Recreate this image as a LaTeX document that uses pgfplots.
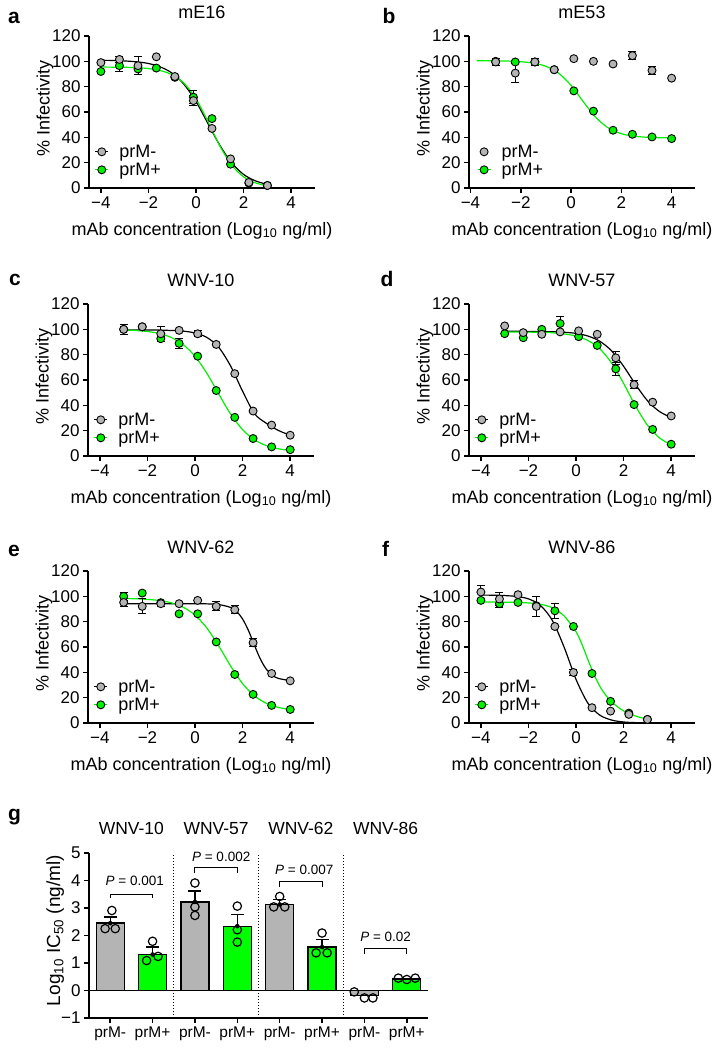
\documentclass[border=0pt]{standalone}
\usepackage{pgfplots}
\pgfplotsset{compat=1.18}
\usepackage{fontspec}
\setmainfont{Liberation Sans}
\definecolor{mgray}{RGB}{180,180,180}
\definecolor{mgreen}{RGB}{0,240,0}
\definecolor{bgreen}{RGB}{0,255,0}
\pgfplotsset{
  axstyle/.style={
    scale only axis, anchor=south west,
    axis x line*=bottom, axis y line*=left,
    axis line style={-, line width=1.8pt},
    every outer x axis line/.append style={-},
    every outer y axis line/.append style={-},
    tick align=outside, major tick length=5pt,
    tick style={black, line width=1.6pt},
    clip=false,
  },
  drbase/.style={
    axstyle, width=226pt, height=152pt,
    xmin=-4.5, xmax=5, ymin=0, ymax=120,
    xtick={-4,-2,0,2,4}, xticklabels={−4,−2,0,2,4},
    ytick={0,20,...,120}, yticklabels={0,20,40,60,80,100,120},
    tick label style={font=\fontsize{17}{17}\selectfont},
    xlabel={mAb concentration (Log\textsubscript{10} ng/ml)},
    ylabel={\% Infectivity},
    every axis x label/.style={at={(axis description cs:0.5,0)}, anchor=base, yshift=-47pt, font=\fontsize{18}{18}\selectfont},
    every axis y label/.style={at={(axis description cs:-0.195,0.52)}, rotate=90, anchor=center, font=\fontsize{18}{18}\selectfont},
    title style={font=\fontsize{18}{18}\selectfont, at={(axis description cs:0.5,1)}, anchor=base, yshift=11.7pt},
    legend style={at={(axis description cs:0,0)}, anchor=south west, draw=none, fill=none,
      font=\fontsize{18}{18}\selectfont, inner sep=0pt, row sep=4pt, /tikz/column sep=10.5pt,
      nodes={inner sep=0pt, text height=13pt, text depth=1pt}},
    legend cell align=left,
  },
  curveM/.style={black, line width=1.2pt, smooth, no marks, forget plot},
  curveP/.style={mgreen, line width=1.2pt, smooth, no marks, forget plot},
  ptsbase/.style={only marks, mark=*, mark size=4pt, forget plot,
    error bars/y dir=both, error bars/y explicit,
    error bars/error bar style={black, line width=1pt},
    error bars/error mark options={black, rotate=90, mark size=4pt, line width=1pt}},
  ptsM/.style={ptsbase, mark options={draw=black, fill=mgray, line width=0.9pt}},
  ptsP/.style={ptsbase, mark options={draw=black, fill=mgreen, line width=0.9pt}},
  legM/.style={legend image code/.code={\draw[black,line width=1.2pt] (-6.5pt,0pt)--(6.5pt,0pt); \draw[black,fill=mgray,line width=0.9pt] (0pt,0pt) circle (4pt);}},
  legP/.style={legend image code/.code={\draw[mgreen,line width=1.2pt] (-6.5pt,0pt)--(6.5pt,0pt); \draw[black,fill=mgreen,line width=0.9pt] (0pt,0pt) circle (4pt);}},
  legMo/.style={legend image code/.code={\draw[black,fill=mgray,line width=0.9pt] (0pt,0pt) circle (4pt);}},
}
\begin{document}
\begin{tikzpicture}
\useasboundingbox (0pt,0pt) rectangle (724pt,-1050pt);
% ---------------- a
\begin{axis}[drbase, at={(89pt,-188pt)}, title={mE16}, legend style={xshift=5.5pt, yshift=11pt}]
\addplot[curveM] coordinates {(-4,100.8) (-3.5,100.7) (-3,100.3) (-2.5,99.6) (-2,98.3) (-1.5,95.6) (-1,90.6) (-0.5,81.7) (0,68.2) (0.5,50.9) (1,33.7) (1.5,19.8) (2,10.7) (2.5,5.6) (3,2.8)};
\addplot[curveP] coordinates {(-4,95.5) (-3.5,95.4) (-3,95.3) (-2.5,95.0) (-2,94.3) (-1.5,92.7) (-1,89.4) (-0.5,82.6) (0,70.4) (0.5,52.5) (1,33.2) (1.5,18.1) (2,8.8) (2.5,4.0) (3,1.8)};
\addplot[ptsP] coordinates {(-4,92) +- (0,0) (-3.22,96.6) +- (0,4.5) (-2.44,94) +- (0,0) (-1.67,94.7) +- (0,0) (-0.89,87.4) +- (0,0) (-0.11,71.7) +- (0,5) (0.67,54.8) +- (0,0) (1.45,18.8) +- (0,0) (2.22,3.9) +- (0,0) (3,2) +- (0,0)};
\addplot[ptsM] coordinates {(-4,99) +- (0,0) (-3.22,101.5) +- (0,2.5) (-2.44,96.6) +- (0,7) (-1.67,103.6) +- (0,0) (-0.89,88) +- (0,0) (-0.11,69) +- (0,4) (0.67,47) +- (0,0) (1.45,23) +- (0,0) (2.22,4.4) +- (0,0) (3,2) +- (0,0)};
\addlegendimage{legM}\addlegendentry{prM-}
\addlegendimage{legP}\addlegendentry{prM+}
\end{axis}
% ---------------- b
\begin{axis}[drbase, at={(469pt,-188pt)}, xmin=-4.06, xmax=4.93, title={mE53}, legend style={xshift=7.8pt, yshift=11pt}]
\addplot[curveP] coordinates {(-3.75,100.5) (-3,100.4) (-2.5,100.2) (-2,99.7) (-1.5,98.6) (-1,96.1) (-0.5,90.7) (0,81.0) (0.5,67.8) (1,55.4) (1.5,47.2) (2,42.9) (2.5,40.9) (3,40.1) (3.5,39.7) (4,39.6)};
\addplot[ptsP] coordinates {(-3,100) +- (0,0) (-2.22,99.5) +- (0,1.5) (-1.44,99.5) +- (0,0) (-0.67,93.4) +- (0,0) (0.11,76.7) +- (0,0) (0.89,60.7) +- (0,0) (1.67,45.6) +- (0,0) (2.44,42.4) +- (0,0) (3.22,40.3) +- (0,0) (4,39) +- (0,0)};
\addplot[ptsM] coordinates {(-3,99.5) +- (0,3) (-2.22,90.7) +- (0,7.5) (-1.44,99.5) +- (0,2.5) (-0.67,93.4) +- (0,0) (0.11,102.1) +- (0,0) (0.89,100) +- (0,0) (1.67,97.9) +- (0,0) (2.44,104.5) +- (0,3) (3.22,92.8) +- (0,3) (4,86.7) +- (0,0)};
\addlegendimage{legMo}\addlegendentry{prM-}
\addlegendimage{legP}\addlegendentry{prM+}
\end{axis}
% ---------------- c
\begin{axis}[drbase, at={(88pt,-456pt)}, title={WNV-10}, legend style={xshift=5.5pt, yshift=11pt}]
\addplot[curveM] coordinates {(-3,99.5) (-2.5,99.5) (-2,99.45) (-1.5,99.4) (-1,99.1) (-0.5,98.6) (0,97.1) (0.5,93.6) (1,85.7) (1.5,70.9) (2,51.1) (2.5,33.4) (3,25.8) (3.5,20.2) (4,16.4)};
\addplot[curveP] coordinates {(-3,99.6) (-2.5,99.1) (-2,98.3) (-1.5,96.7) (-1,93.6) (-0.5,88.0) (0,78.7) (0.5,65.2) (1,48.8) (1.5,33.0) (2,20.8) (2.5,12.8) (3,8.2) (3.5,5.7) (4,4.4)};
\addplot[ptsP] coordinates {(-3,100) +- (0,0) (-2.22,102) +- (0,0) (-1.44,92.6) +- (0,2) (-0.67,88.9) +- (0,4) (0.11,78.8) +- (0,0) (0.89,51.7) +- (0,0) (1.67,30.5) +- (0,0) (2.44,13.8) +- (0,0) (3.22,7.2) +- (0,0) (4,5) +- (0,0)};
\addplot[ptsM] coordinates {(-3,100) +- (0,4) (-2.22,102) +- (0,0) (-1.44,96.5) +- (0,6) (-0.67,99.2) +- (0,0) (0.11,96.5) +- (0,2.5) (0.89,88.1) +- (0,0) (1.67,65) +- (0,0) (2.44,35.5) +- (0,0) (3.22,24.4) +- (0,0) (4,16.4) +- (0,0)};
\addlegendimage{legM}\addlegendentry{prM-}
\addlegendimage{legP}\addlegendentry{prM+}
\end{axis}
% ---------------- d
\begin{axis}[drbase, at={(469pt,-456pt)}, title={WNV-57}, legend style={xshift=5.5pt, yshift=11pt}]
\addplot[curveM] coordinates {(-3,98.5) (-2.5,98.5) (-2,98.4) (-1.5,98.3) (-1,98.1) (-0.5,97.7) (0,96.8) (0.5,94.7) (1,90.6) (1.5,82.9) (2,70.8) (2.5,56.5) (3,43.7) (3.5,35.2) (4,30.4)};
\addplot[curveP] coordinates {(-3,98) (-2.5,97.9) (-2,97.8) (-1.5,97.7) (-1,97.3) (-0.5,96.4) (0,94.7) (0.5,91.2) (1,84.6) (1.5,73.3) (2,57.3) (2.5,39.5) (3,24.4) (3.5,14.4) (4,8.7)};
\addplot[ptsP] coordinates {(-3,96.6) +- (0,0) (-2.22,93.4) +- (0,0) (-1.44,100) +- (0,0) (-0.67,104.6) +- (0,5.5) (0.11,94.2) +- (0,0) (0.89,87.3) +- (0,0) (1.67,68.8) +- (0,5) (2.44,40.6) +- (0,0) (3.22,21) +- (0,0) (4,9.3) +- (0,0)};
\addplot[ptsM] coordinates {(-3,102.7) +- (0,0) (-2.22,97.4) +- (0,0) (-1.44,96.1) +- (0,0) (-0.67,98) +- (0,0) (0.11,98.8) +- (0,0) (0.89,96.1) +- (0,0) (1.67,77.5) +- (0,5) (2.44,56.3) +- (0,3) (3.22,42.5) +- (0,0) (4,31.6) +- (0,0)};
\addlegendimage{legM}\addlegendentry{prM-}
\addlegendimage{legP}\addlegendentry{prM+}
\end{axis}
% ---------------- e
\begin{axis}[drbase, at={(88pt,-723pt)}, title={WNV-62}, legend style={xshift=5.5pt, yshift=11pt}]
\addplot[curveM] coordinates {(-3,94.2) (-2,94.2) (-1,94.2) (0,94.17) (0.5,94.06) (1,93.5) (1.5,91.2) (1.75,88.0) (2,82.1) (2.25,72.8) (2.5,61.2) (2.75,50.3) (3,42.4) (3.25,37.7) (3.5,35.2) (4,33.5)};
\addplot[curveP] coordinates {(-3,98.3) (-2.5,98.1) (-2,97.6) (-1.5,96.7) (-1,94.9) (-0.5,91.4) (0,85.2) (0.5,74.9) (1,60.7) (1.5,44.9) (2,31.1) (2.5,21.4) (3,15.5) (3.5,12.3) (4,10.7)};
\addplot[ptsP] coordinates {(-3,100) +- (0,3) (-2.22,102.6) +- (0,0) (-1.44,95) +- (0,0) (-0.67,86.2) +- (0,0) (0.11,86.2) +- (0,0) (0.89,64) +- (0,0) (1.67,38.3) +- (0,0) (2.44,22.6) +- (0,0) (3.22,13.9) +- (0,0) (4,10.7) +- (0,0)};
\addplot[ptsM] coordinates {(-3,95.2) +- (0,3) (-2.22,92.1) +- (0,6) (-1.44,94.2) +- (0,2) (-0.67,94.2) +- (0,0) (0.11,96.8) +- (0,0) (0.89,92.1) +- (0,3.5) (1.67,89.4) +- (0,3) (2.44,63.4) +- (0,3) (3.22,39.1) +- (0,0) (4,33.3) +- (0,0)};
\addlegendimage{legM}\addlegendentry{prM-}
\addlegendimage{legP}\addlegendentry{prM+}
\end{axis}
% ---------------- f
\begin{axis}[drbase, at={(469pt,-723pt)}, title={WNV-86}, legend style={xshift=5.5pt, yshift=11pt}]
\addplot[curveM] coordinates {(-4,101) (-3.5,100.9) (-3,100.6) (-2.5,99.9) (-2,98.0) (-1.5,92.9) (-1,81.1) (-0.5,59.8) (0,34.4) (0.5,15.6) (1,6.2) (1.5,2.3) (2,0.8) (2.5,0.3) (3,0.1)};
\addplot[curveP] coordinates {(-4,95.5) (-3.5,95.5) (-3,95.4) (-2.5,95.2) (-2,94.8) (-1.5,93.8) (-1,91) (-0.5,84.5) (0,72) (0.25,62) (0.5,50) (0.75,38.5) (1,29) (1.25,22) (1.5,16.5) (2,9.5) (2.5,5.5) (3,3)};
\addplot[ptsP] coordinates {(-4,96.8) +- (0,0) (-3.22,94.2) +- (0,3) (-2.44,95.2) +- (0,0) (-1.67,92.6) +- (0,0) (-0.89,88.6) +- (0,6) (-0.11,76.2) +- (0,0) (0.67,39.1) +- (0,0) (1.45,17.1) +- (0,0) (2.22,7.8) +- (0,0) (3,2.8) +- (0,0)};
\addplot[ptsM] coordinates {(-4,103.4) +- (0,5) (-3.22,97.9) +- (0,5) (-2.44,101.3) +- (0,0) (-1.67,92) +- (0,8) (-0.89,76.2) +- (0,0) (-0.11,39.9) +- (0,2) (0.67,12.1) +- (0,0) (1.45,9.4) +- (0,0) (2.22,6.8) +- (0,0) (3,2.8) +- (0,0)};
\addlegendimage{legM}\addlegendentry{prM-}
\addlegendimage{legP}\addlegendentry{prM+}
\end{axis}
% ---------------- g
\begin{axis}[axstyle, width=339pt, height=165pt, at={(89pt,-1018pt)},
  xmin=-0.5, xmax=7.5, ymin=-1, ymax=5,
  xtick={0,...,7}, xticklabels={prM-,prM+,prM-,prM+,prM-,prM+,prM-,prM+},
  ytick={-1,0,...,5}, yticklabels={−1,0,1,2,3,4,5},
  xticklabel style={font=\fontsize{15.5}{15.5}\selectfont},
  yticklabel style={font=\fontsize{17}{17}\selectfont},
  ylabel={Log\textsubscript{10} IC\textsubscript{50} (ng/ml)},
  every axis y label/.style={at={(axis description cs:-0.1,0.53)}, rotate=90, anchor=center, font=\fontsize{19}{19}\selectfont}]
\addplot[ybar, bar width=28pt, bar shift=0pt, fill=mgray, draw=black, line width=1.3pt] coordinates {(0,2.45) (2,3.22) (4,3.13) (6,-0.18)};
\addplot[ybar, bar width=28pt, bar shift=0pt, fill=bgreen, draw=black, line width=1.3pt] coordinates {(1,1.31) (3,2.34) (5,1.58) (7,0.42)};
\addplot[black, only marks, mark=none, error bars/y dir=plus, error bars/y explicit,
  error bars/error bar style={black, line width=1.2pt},
  error bars/error mark options={black, rotate=90, mark size=6.5pt, line width=1.2pt}]
  coordinates {(0,2.45) +- (0,0.22) (1,1.31) +- (0,0.27) (2,3.22) +- (0,0.40) (3,2.34) +- (0,0.42) (4,3.13) +- (0,0.17) (5,1.58) +- (0,0.28)};
\addplot[black, only marks, mark=o, mark size=4.2pt, line width=1.2pt] coordinates {(0.04,2.91) (-0.12,2.25) (0.12,2.25) (1,1.79) (0.86,1.09) (1.13,1.24) (2,3.91) (2,3.04) (2,2.73) (3,3.07) (3,2.21) (3,1.76) (4,3.42) (3.86,3.04) (4.12,3.04) (5,2.09) (4.86,1.37) (5.12,1.37) (5.76,-0.05) (6,-0.27) (6.2,-0.27) (6.8,0.45) (7,0.40) (7.2,0.45)};
\draw[line width=1.8pt] (axis cs:-0.5,0) -- (axis cs:7.5,0);
\draw[dotted, line width=1pt] (axis cs:1.5,-1) -- (axis cs:1.5,5);
\draw[dotted, line width=1pt] (axis cs:3.5,-1) -- (axis cs:3.5,5);
\draw[dotted, line width=1pt] (axis cs:5.5,-1) -- (axis cs:5.5,5);
\draw[line width=1pt] (axis cs:0,3.35) -- (axis cs:0,3.5) -- (axis cs:1,3.5) -- (axis cs:1,3.35);
\draw[line width=1pt] (axis cs:2,4.27) -- (axis cs:2,4.46) -- (axis cs:3,4.46) -- (axis cs:3,4.27);
\draw[line width=1pt] (axis cs:4,3.77) -- (axis cs:4,3.97) -- (axis cs:5,3.97) -- (axis cs:5,3.77);
\draw[line width=1pt] (axis cs:6,1.34) -- (axis cs:6,1.52) -- (axis cs:7,1.52) -- (axis cs:7,1.34);
\node[font=\fontsize{13.5}{13.5}\selectfont] at (axis cs:0.58,3.98) {\textit{P} = 0.001};
\node[font=\fontsize{13.5}{13.5}\selectfont] at (axis cs:2.62,4.87) {\textit{P} = 0.002};
\node[font=\fontsize{13.5}{13.5}\selectfont] at (axis cs:4.58,4.37) {\textit{P} = 0.007};
\node[font=\fontsize{13.5}{13.5}\selectfont] at (axis cs:6.5,1.94) {\textit{P} = 0.02};
\node[font=\fontsize{17.5}{17.5}\selectfont, anchor=base] at (axis cs:0.5,5) [yshift=19pt] {WNV-10};
\node[font=\fontsize{17.5}{17.5}\selectfont, anchor=base] at (axis cs:2.5,5) [yshift=19pt] {WNV-57};
\node[font=\fontsize{17.5}{17.5}\selectfont, anchor=base] at (axis cs:4.5,5) [yshift=19pt] {WNV-62};
\node[font=\fontsize{17.5}{17.5}\selectfont, anchor=base] at (axis cs:6.5,5) [yshift=19pt] {WNV-86};
\end{axis}
% panel letters
\begin{scope}[every node/.style={font=\bfseries\fontsize{21}{21}\selectfont, anchor=base}]
\node at (14pt,-23pt) {a};
\node at (389pt,-23pt) {b};
\node at (15pt,-285pt) {c};
\node at (387pt,-286pt) {d};
\node at (14pt,-556pt) {e};
\node at (385.5pt,-556.5pt) {f};
\node at (14.5pt,-820pt) {g};
\end{scope}
\end{tikzpicture}
\end{document}
